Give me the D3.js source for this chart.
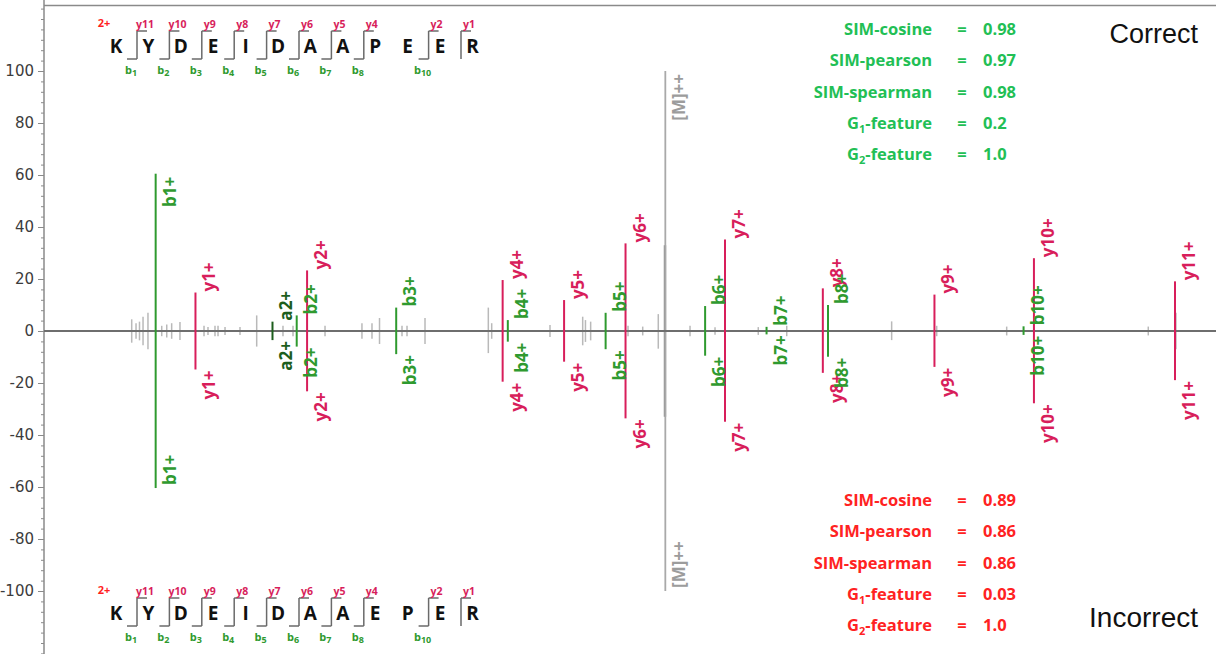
<!DOCTYPE html>
<html>
<head>
<meta charset="utf-8">
<script src="https://cdn.jsdelivr.net/npm/d3@7/dist/d3.min.js"></script>
<style>
  html, body { margin: 0; padding: 0; background: #fff; }
  svg { display: block; }
</style>
</head>
<body>
<svg id="chart" width="1216" height="654"></svg>
<script>
// ---- Peptide sequences (top: correct match, bottom: incorrect match) ----
const topSequence    = ["K","Y","D","E","I","D","A","A","P","E","E","R"];
const bottomSequence = ["K","Y","D","E","I","D","A","A","E","P","E","R"];
const precursorCharge = "2+";
// cleavage sites (after residue n) that carry an observed b / y ion
const bCleavages = [1, 2, 3, 4, 5, 6, 7, 8, 10];
const yCleavages = [1, 2, 3, 4, 5, 6, 7, 8, 10, 11];

// ---- Annotated fragment ions ----
const ionLabels = ["b1+","y1+","a2+","b2+","y2+","b3+","y4+","b4+","y5+","b5+",
                   "y6+","b6+","y7+","b7+","y8+","b8+","y9+","b10+","y10+","y11+"];
const ionMz = [129.10, 175.12, 264.17, 292.17, 304.16, 407.19, 530.26, 536.24, 601.29, 649.32,
               672.33, 764.35, 787.36, 835.38, 900.44, 906.42, 1029.49, 1132.52, 1144.51, 1307.58];
const topIntensity = [60.5, 14.8, 3.6, 6.0, 23.3, 9.0, 19.6, 4.2, 11.9, 7.0,
                      33.7, 9.6, 35.2, 1.6, 16.4, 10.0, 14.0, 1.8, 28.0, 19.1];
const bottomIntensity = [-60.4, -14.8, -3.5, -6.0, -23.2, -8.9, -19.5, -4.1, -11.8, -7.0,
                         -33.6, -9.5, -34.9, -1.3, -16.1, -9.9, -13.8, -1.5, -27.8, -18.9];

// ---- Unannotated peaks ----
const noiseMz = [101.4, 106.4, 110.4, 114.5, 120.2, 136.1, 141.9, 147.6, 157.2, 185.0,
                 189.6, 197.7, 201.2, 209.3, 226.6, 245.9, 276.3, 287.9, 324.9, 367.6,
                 379.2, 387.9, 413.9, 419.7, 440.5, 513.7, 517.6, 585.0, 622.8, 626.0,
                 632.0, 675.2, 692.2, 710.2, 718.6, 746.9, 775.8, 825.8, 858.7, 980.0,
                 1032.1, 1113.0, 1276.7, 1308.7];
const noiseTop = [4.5, 3.0, 3.6, 5.5, 7.0, 2.0, 2.5, 3.0, 3.5, 2.0,
                  1.5, 2.0, 2.0, 1.5, 1.5, 6.0, 2.0, 2.0, 2.0, 3.0,
                  3.0, 5.0, 2.0, 2.0, 5.0, 9.0, 3.0, 2.3, 5.5, 4.2,
                  3.6, 2.0, 1.7, 6.5, 33.0, 2.0, 1.4, 1.5, 2.0, 3.7,
                  2.0, 1.7, 1.7, 7.0];
const noiseBottom = [-4.5, -3.0, -3.6, -5.5, -7.0, -2.0, -2.5, -3.0, -3.5, -2.0,
                     -1.5, -2.0, -2.0, -1.5, -1.5, -6.0, -2.0, -2.0, -2.0, -3.0,
                     -3.0, -5.0, -2.0, -2.0, -5.0, -8.5, -3.0, -2.3, -5.5, -4.2,
                     -3.6, -2.0, -1.7, -6.8, -33.0, -2.0, -1.4, -1.5, -2.0, -3.5,
                     -2.0, -1.7, -1.7, -7.0];

// ---- Precursor marker ----
const precursorMz = 718.34;
const precursorLabel = "[M]++";
const precursorExtent = [100, -100];

// ---- Axis ticks ----
const yTickValues = [-100, -80, -60, -40, -20, 0, 20, 40, 60, 80, 100];
const yMinorTicks = d3.range(-124, 125, 4);

// ---- Similarity scores ----
const statNames = ["SIM-cosine", "SIM-pearson", "SIM-spearman", "G1-feature", "G2-feature"];
const correctValues = ["0.98", "0.97", "0.98", "0.2", "1.0"];
const incorrectValues = ["0.89", "0.86", "0.86", "0.03", "1.0"];
const panelTitles = ["Correct", "Incorrect"];

// ---- Styling ----
const colY = "#d81e5b";
const colB = "#2f9a2f";
const colA = "#1d5e1d";
const colNoise = "#b9b9b9";
const colStatGood = "#22bf55";
const colStatBad = "#ff2222";
const labelFont = "'Open Sans', 'Noto Sans', sans-serif";

const svg = d3.select("#chart");
const W = 1216, H = 654;

const x = d3.scaleLinear().domain([0, 1355]).range([44, 1216]);
const y = d3.scaleLinear().domain([-125, 125]).range([656, 6]);

function ionColor(label) {
  if (label[0] === "y") return colY;
  if (label[0] === "a") return colA;
  return colB;
}

// frame top border
svg.append("line")
  .attr("x1", 44).attr("x2", W).attr("y1", 5.5).attr("y2", 5.5)
  .attr("stroke", "#8a8a8a").attr("stroke-width", 1.5);

// y axis: minor ticks then major ticks with labels
const yMinor = svg.append("g").attr("transform", "translate(44,0)")
  .call(d3.axisLeft(y).tickValues(yMinorTicks).tickSize(3).tickFormat(""));
yMinor.select(".domain").remove();
yMinor.selectAll("line").attr("stroke", "#8a8a8a");

const yAxis = svg.append("g").attr("transform", "translate(44,0)")
  .call(d3.axisLeft(y).tickValues(yTickValues).tickSize(6).tickPadding(4)
    .tickFormat(d => String(d)));
yAxis.select(".domain").attr("stroke", "#8a8a8a").attr("stroke-width", 1.5)
  .attr("d", `M0,0V${H}`);
yAxis.selectAll("line").attr("stroke", "#8a8a8a");
yAxis.selectAll("text")
  .attr("fill", "#3c3c3c")
  .style("font-family", "'DejaVu Sans', sans-serif")
  .style("font-size", "15px");

// unannotated peaks
const noise = svg.append("g").attr("stroke", colNoise).attr("stroke-width", 1.5);
noise.selectAll("line.top").data(noiseMz).join("line").attr("class", "top")
  .attr("x1", d => x(d)).attr("x2", d => x(d))
  .attr("y1", y(0)).attr("y2", (d, i) => y(noiseTop[i]));
noise.selectAll("line.bot").data(noiseMz).join("line").attr("class", "bot")
  .attr("x1", d => x(d)).attr("x2", d => x(d))
  .attr("y1", y(0)).attr("y2", (d, i) => y(noiseBottom[i]));

// precursor line
svg.append("line")
  .attr("x1", x(precursorMz)).attr("x2", x(precursorMz))
  .attr("y1", y(precursorExtent[0])).attr("y2", y(precursorExtent[1]))
  .attr("stroke", "#a9a9a9").attr("stroke-width", 1.8);
svg.append("line")
  .attr("x1", x(precursorMz) - 1).attr("x2", x(precursorMz) - 1)
  .attr("y1", y(noiseTop[34])).attr("y2", y(noiseBottom[34]))
  .attr("stroke", "#9a9a9a").attr("stroke-width", 1.2);

// m/z baseline
svg.append("line")
  .attr("x1", 44).attr("x2", W).attr("y1", y(0)).attr("y2", y(0))
  .attr("stroke", "#6e6e6e").attr("stroke-width", 2);

// annotated peaks
const ions = ionLabels.map((label, i) => ({ label, mz: ionMz[i], top: topIntensity[i], bot: bottomIntensity[i] }));
const peaks = svg.append("g").attr("stroke-width", 2);
peaks.selectAll("line.top").data(ions).join("line").attr("class", "top")
  .attr("x1", d => x(d.mz)).attr("x2", d => x(d.mz))
  .attr("y1", y(0)).attr("y2", d => y(d.top))
  .attr("stroke", d => ionColor(d.label));
peaks.selectAll("line.bot").data(ions).join("line").attr("class", "bot")
  .attr("x1", d => x(d.mz)).attr("x2", d => x(d.mz))
  .attr("y1", y(0)).attr("y2", d => y(d.bot))
  .attr("stroke", d => ionColor(d.label));

// rotated peak labels, reading upward, just right of the peak
function peakLabel(g, mz, v, text, color) {
  const tall = Math.abs(v) > 50;
  let anchor, py;
  if (v >= 0) {
    if (tall) { anchor = "end"; py = y(v) + 3; } else { anchor = "start"; py = y(v) - 1; }
  } else {
    if (tall) { anchor = "start"; py = y(v) - 3; } else { anchor = "end"; py = y(v) + 1; }
  }
  g.append("text")
    .attr("transform", `translate(${x(mz) + 20},${py}) rotate(-90)`)
    .attr("text-anchor", anchor)
    .attr("fill", color)
    .style("font-family", labelFont)
    .style("font-weight", 700)
    .style("font-size", "17px")
    .text(text);
}
const labels = svg.append("g");
ions.forEach(d => {
  peakLabel(labels, d.mz, d.top, d.label, ionColor(d.label));
  peakLabel(labels, d.mz, d.bot, d.label, ionColor(d.label));
});
peakLabel(labels, precursorMz, precursorExtent[0], precursorLabel, "#9c9c9c");
peakLabel(labels, precursorMz, precursorExtent[1], precursorLabel, "#9c9c9c");

// sequence diagrams with fragment brackets
function drawSequence(seq, dy) {
  const g = svg.append("g").attr("transform", `translate(0,${dy})`);
  const lx = i => 116 + 32.4 * i;
  g.append("text").attr("x", 104).attr("y", 27).attr("text-anchor", "middle")
    .attr("fill", "#ff1f1f").style("font-family", labelFont).style("font-weight", 700)
    .style("font-size", "11px").text(precursorCharge);
  g.selectAll("text.res").data(seq).join("text").attr("class", "res")
    .attr("x", (d, i) => lx(i)).attr("y", 53).attr("text-anchor", "middle")
    .attr("fill", "#111").style("font-family", labelFont).style("font-weight", 700)
    .style("font-size", "19px").text(d => d);
  const cuts = Array.from(new Set([...bCleavages, ...yCleavages])).sort((a, b) => a - b);
  const cx = c => lx(c - 1) + 21;
  g.selectAll("line.cut").data(cuts).join("line").attr("class", "cut")
    .attr("x1", cx).attr("x2", cx).attr("y1", 31).attr("y2", 59)
    .attr("stroke", "#6a6a6a").attr("stroke-width", 1.5);
  g.selectAll("line.bcut").data(bCleavages).join("line").attr("class", "bcut")
    .attr("x1", c => cx(c) - 10).attr("x2", cx).attr("y1", 59).attr("y2", 59)
    .attr("stroke", "#6a6a6a").attr("stroke-width", 1.5);
  g.selectAll("line.ycut").data(yCleavages).join("line").attr("class", "ycut")
    .attr("x1", cx).attr("x2", c => cx(c) + 10).attr("y1", 31).attr("y2", 31)
    .attr("stroke", "#6a6a6a").attr("stroke-width", 1.5);
  g.selectAll("text.ylab").data(yCleavages).join("text").attr("class", "ylab")
    .attr("x", c => cx(c) + 8).attr("y", 28).attr("text-anchor", "middle")
    .attr("fill", colY).style("font-family", labelFont).style("font-weight", 700)
    .style("font-size", "10.5px").text(c => "y" + (seq.length - c));
  const bl = g.selectAll("text.blab").data(bCleavages).join("text").attr("class", "blab")
    .attr("x", c => cx(c) - 6).attr("y", 74).attr("text-anchor", "middle")
    .attr("fill", colB).style("font-family", labelFont).style("font-weight", 700)
    .style("font-size", "11px");
  bl.append("tspan").text("b");
  bl.append("tspan").attr("dy", 2).style("font-size", "9px").text(c => c);
}
drawSequence(topSequence, 0);
drawSequence(bottomSequence, 567);

// similarity score tables
function drawStats(values, color, baseY) {
  const g = svg.append("g").style("font-family", labelFont).style("font-weight", 700)
    .style("font-size", "16.5px").attr("fill", color);
  const row = d3.scalePoint().domain(statNames).range([baseY, baseY + 125]);
  statNames.forEach((name, i) => {
    const t = g.append("text").attr("x", 932).attr("y", row(name)).attr("text-anchor", "end");
    const m = name.match(/^G(\d)(.*)$/);
    if (m) {
      t.append("tspan").text("G");
      t.append("tspan").attr("dy", 4).style("font-size", "11px").text(m[1]);
      t.append("tspan").attr("dy", -4).text(m[2]);
    } else {
      t.text(name);
    }
    g.append("text").attr("x", 962).attr("y", row(name)).attr("text-anchor", "middle").text("=");
    g.append("text").attr("x", 983).attr("y", row(name)).text(values[i]);
  });
}
drawStats(correctValues, colStatGood, 35);
drawStats(incorrectValues, colStatBad, 506);

// panel titles
svg.append("text").attr("x", 1198).attr("y", 43).attr("text-anchor", "end")
  .style("font-family", "'Liberation Sans', Arial, sans-serif").style("font-size", "27px")
  .attr("fill", "#111").text(panelTitles[0]);
svg.append("text").attr("x", 1198).attr("y", 627).attr("text-anchor", "end")
  .style("font-family", "'Liberation Sans', Arial, sans-serif").style("font-size", "28px")
  .attr("fill", "#111").text(panelTitles[1]);
</script>
</body>
</html>
